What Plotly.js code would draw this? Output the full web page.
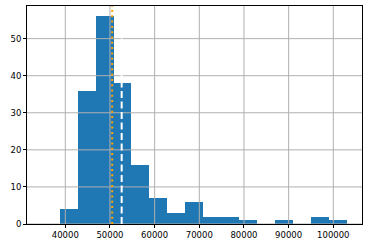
<!DOCTYPE html>
<html>
<head>
<meta charset="utf-8">
<script src="https://cdn.plot.ly/plotly-3.0.1.min.js"></script>
<style>html,body{margin:0;padding:0;background:#fff;}#chart{width:368px;height:248px;}</style>
</head>
<body>
<div id="chart"></div>
<script>
// Histogram bin edges (17) and counts (16)
const binEdges = [38750, 42766, 46781, 50797, 54812, 58828, 62844, 66859, 70875, 74890, 78906, 82922, 86937, 90953, 94968, 98984, 103000];
const counts = [4, 36, 56, 38, 16, 7, 3, 6, 2, 2, 1, 0, 1, 0, 2, 1];
const xTicks = [40000, 50000, 60000, 70000, 80000, 90000, 100000];
const yTicks = [0, 10, 20, 30, 40, 50];
const meanValue = 52620;
const medianValue = 50500;

const centers = counts.map((c, i) => (binEdges[i] + binEdges[i + 1]) / 2);
const widths = counts.map((c, i) => binEdges[i + 1] - binEdges[i]);

const trace = {
  type: 'bar',
  x: centers,
  y: counts,
  width: widths,
  marker: {color: '#1f77b4', line: {width: 0}},
  hoverinfo: 'x+y'
};

const gridColor = '#b0b0b0';
const shapes = [];
xTicks.forEach(v => shapes.push({type: 'line', xref: 'x', yref: 'paper', x0: v, x1: v, y0: 0, y1: 1, layer: 'above', line: {color: gridColor, width: 1}}));
yTicks.forEach(v => shapes.push({type: 'line', xref: 'paper', yref: 'y', x0: 0, x1: 1, y0: v, y1: v, layer: 'above', line: {color: gridColor, width: 1}}));
shapes.push({type: 'line', xref: 'x', yref: 'paper', x0: meanValue, x1: meanValue, y0: 0, y1: 1, layer: 'above', line: {color: '#ffffff', width: 2, dash: '7px,3.5px'}});
shapes.push({type: 'line', xref: 'x', yref: 'paper', x0: medianValue, x1: medianValue, y0: 0, y1: 1, layer: 'above', line: {color: '#ffa500', width: 2, dash: '2px,3.3px'}});

const axisCommon = {
  showgrid: false,
  zeroline: false,
  showline: true,
  mirror: true,
  linecolor: '#000',
  linewidth: 1,
  ticks: 'outside',
  ticklen: 3,
  tickwidth: 1,
  tickcolor: '#000',
  tickfont: {family: 'DejaVu Sans', size: 8.5, color: '#000'}
};

const layout = {
  width: 368,
  height: 248,
  margin: {l: 27, r: 6, t: 6, b: 24, pad: 0},
  paper_bgcolor: '#fff',
  plot_bgcolor: '#fff',
  showlegend: false,
  bargap: 0,
  xaxis: Object.assign({}, axisCommon, {range: [31425, 106425], tickmode: 'array', tickvals: xTicks, ticktext: xTicks.map(String)}),
  yaxis: Object.assign({}, axisCommon, {range: [0, 58.8], tickmode: 'array', tickvals: yTicks, ticktext: yTicks.map(String)}),
  shapes: shapes
};

Plotly.newPlot('chart', [trace], layout, {displayModeBar: false, staticPlot: true});
</script>
</body>
</html>
